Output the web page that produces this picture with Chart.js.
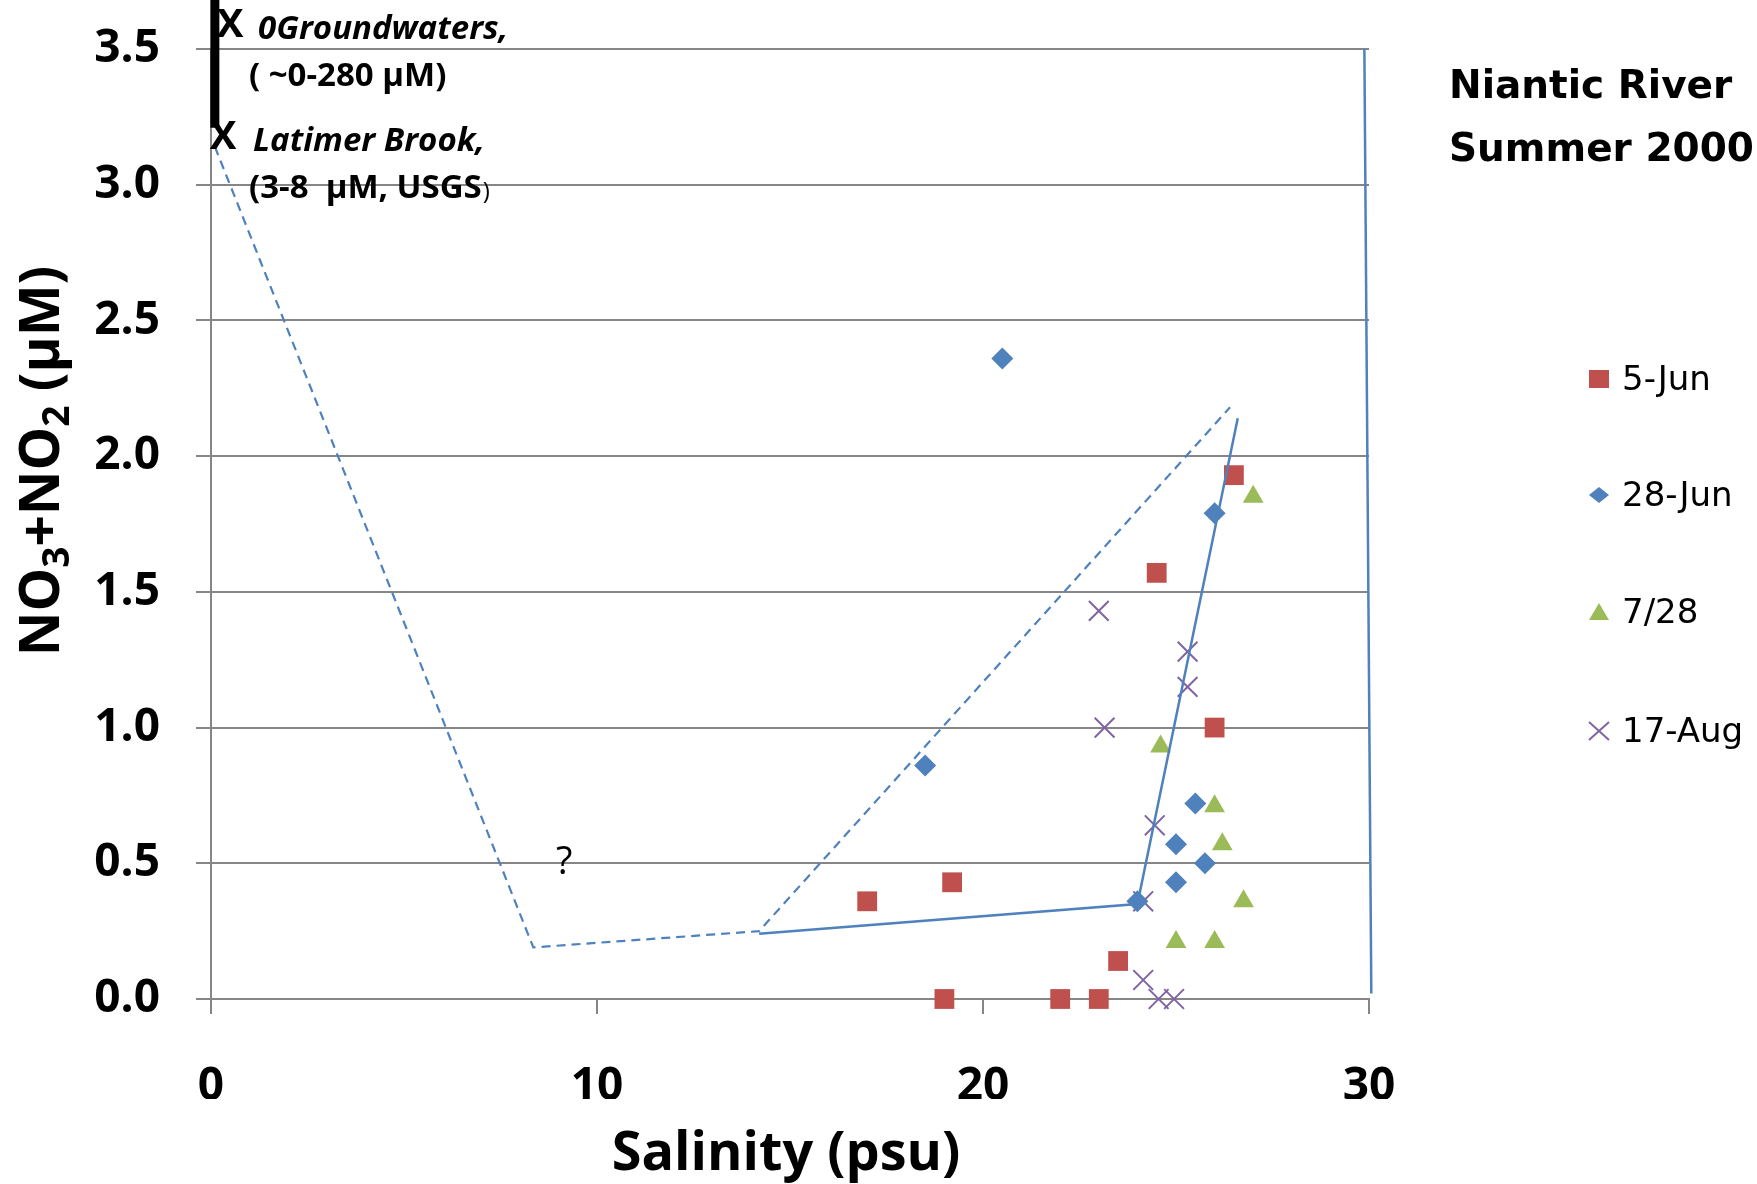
<!DOCTYPE html>
<html>
<head>
<meta charset="utf-8">
<title>Niantic River Summer 2000</title>
<script src="https://cdn.jsdelivr.net/npm/chart.js@4.4.0/dist/chart.umd.min.js"></script>
<style>
  html, body { margin: 0; padding: 0; background: #fff; }
  #wrap { width: 1757px; height: 1184px; }
</style>
</head>
<body>
<div id="wrap"><canvas id="chart" width="1757" height="1184"></canvas></div>
<script>
// sampling dates shown in the legend
const seriesNames = ['5-Jun', '28-Jun', '7/28', '17-Aug'];
const seriesColors = ['#C0504D', '#4F81BD', '#9BBB59', '#8064A2'];

// salinity (psu) and NO3+NO2 (uM) for each survey
const jun5Sal = [26.5, 24.5, 26.0, 19.2, 17.0, 23.5, 19.0, 22.0, 23.0];
const jun5NOx = [1.93, 1.57, 1.00, 0.43, 0.36, 0.14, 0.0, 0.0, 0.0];

const jun28Sal = [20.5, 26.0, 18.5, 25.5, 25.0, 25.75, 25.0, 24.0];
const jun28NOx = [2.36, 1.79, 0.86, 0.72, 0.57, 0.50, 0.43, 0.36];

const jul28Sal = [27.0, 24.6, 26.0, 26.2, 26.75, 25.0, 26.0];
const jul28NOx = [1.85, 0.93, 0.71, 0.57, 0.36, 0.21, 0.21];

const aug17Sal = [23.0, 25.3, 25.3, 23.15, 24.45, 24.15, 24.15, 24.55, 24.95];
const aug17NOx = [1.43, 1.28, 1.15, 1.00, 0.64, 0.36, 0.07, 0.0, 0.0];

// mixing lines drawn by hand on the original
const dashedSal = [0.1, 8.35, 14.2, 26.4];
const dashedNOx = [3.14, 0.19, 0.25, 2.18];
const solidSal = [14.2, 24.0, 26.6];
const solidNOx = [0.24, 0.35, 2.14];
const oceanSal = [29.88, 30.06];
const oceanNOx = [3.5, 0.02];
const sourceSal = [0.1, 0.1];
const sourceNOx = [3.21, 3.8];

// axis ticks
const xTicks = [0, 10, 20, 30];
const yTicks = [0, 0.5, 1.0, 1.5, 2.0, 2.5, 3.0, 3.5];

const pts = (xs, ys) => xs.map((v, i) => ({ x: v, y: ys[i] }));

const tickFont = { family: 'Open Sans', size: 46, weight: 'bold' };

const overlay = {
    id: 'overlay',
    afterDraw(chart) {
        const { ctx } = chart;
        const xs = chart.scales.x, ys = chart.scales.y;
        ctx.save();
        ctx.fillStyle = '#000';

        // end-member notes
        ctx.textBaseline = 'middle';
        ctx.textAlign = 'center';
        ctx.font = 'bold 40px "Open Sans"';
        ctx.fillText('X', 230, 26);
        ctx.fillText('X', 223, 138);
        ctx.textAlign = 'left';
        ctx.font = 'italic bold 33px "Open Sans"';
        ctx.fillText('0Groundwaters,', 258, 30);
        ctx.fillText('Latimer Brook,', 253, 142);
        ctx.font = 'bold 33px "Open Sans"';
        ctx.fillText('( ~0-280 \u00b5M)', 249, 77);
        ctx.fillText('(3-8  \u00b5M, USGS', 249, 189);
        const w = ctx.measureText('(3-8  \u00b5M, USGS').width;
        ctx.font = '24px "Open Sans"';
        ctx.fillText(')', 249 + w + 1, 192);

        // question mark
        ctx.textAlign = 'center';
        ctx.font = '38px "Open Sans"';
        ctx.fillText('?', xs.getPixelForValue(9.15), ys.getPixelForValue(0.5));

        // chart title
        ctx.textAlign = 'left';
        ctx.font = 'bold 39px "DejaVu Sans"';
        ctx.fillText('Niantic River', 1449, 88);
        ctx.fillText('Summer 2000', 1449, 151);

        // legend
        const rowY = [379, 495, 612, 731];
        ctx.font = '34px "DejaVu Sans"';
        seriesNames.forEach((name, i) => {
            const cx = 1599, cy = rowY[i];
            ctx.fillStyle = seriesColors[i];
            ctx.strokeStyle = seriesColors[i];
            ctx.beginPath();
            if (i === 0) {
                ctx.rect(cx - 10, cy - 9, 20, 18);
                ctx.fill();
            } else if (i === 1) {
                ctx.moveTo(cx - 10, cy); ctx.lineTo(cx, cy - 8);
                ctx.lineTo(cx + 10, cy); ctx.lineTo(cx, cy + 8);
                ctx.closePath(); ctx.fill();
            } else if (i === 2) {
                ctx.moveTo(cx - 10, cy + 8); ctx.lineTo(cx, cy - 9);
                ctx.lineTo(cx + 10, cy + 8); ctx.closePath(); ctx.fill();
            } else {
                ctx.lineWidth = 2;
                ctx.moveTo(cx - 10, cy - 9); ctx.lineTo(cx + 10, cy + 9);
                ctx.moveTo(cx + 10, cy - 9); ctx.lineTo(cx - 10, cy + 9);
                ctx.stroke();
            }
            ctx.fillStyle = '#000';
            ctx.fillText(name, 1622, cy + 2);
        });

        // axis titles
        ctx.textAlign = 'center';
        ctx.font = 'bold 54px "Open Sans"';
        ctx.fillText('Salinity (psu)', (xs.left + xs.right) / 2 - 4, 1155);

        ctx.translate(43, 461);
        ctx.rotate(-Math.PI / 2);
        const parts = [['NO', 0], ['3', 1], ['+NO', 0], ['2', 1], [' (\u00b5M)', 0]];
        const big = 'bold 55px "Open Sans"', small = 'bold 37px "Open Sans"';
        let total = 0;
        parts.forEach(p => { ctx.font = p[1] ? small : big; total += ctx.measureText(p[0]).width; });
        let px = -total / 2;
        ctx.textAlign = 'left';
        parts.forEach(p => {
            ctx.font = p[1] ? small : big;
            ctx.fillText(p[0], px, p[1] ? 15 : 0);
            px += ctx.measureText(p[0]).width;
        });
        ctx.restore();
    }
};

const markerSet = (label, data, color, style, radius) => ({
    label, data,
    pointStyle: style,
    pointRadius: radius,
    pointHoverRadius: radius,
    backgroundColor: color,
    borderColor: color,
    borderWidth: style === 'crossRot' ? 2 : 0,
    showLine: false,
    clip: false
});

const lineSet = (data, dash, width, color) => ({
    label: '',
    data,
    showLine: true,
    borderColor: color,
    borderWidth: width,
    borderDash: dash,
    pointRadius: 0,
    fill: false,
    clip: false
});

new Chart(document.getElementById('chart'), {
    type: 'scatter',
    data: {
        datasets: [
            lineSet(pts(dashedSal, dashedNOx), [9, 6], 2.2, '#4F81BD'),
            lineSet(pts(solidSal, solidNOx), [], 2.5, '#4F81BD'),
            lineSet(pts(oceanSal, oceanNOx), [], 2.5, '#4F81BD'),
            lineSet(pts(sourceSal, sourceNOx), [], 9, '#000'),
            markerSet(seriesNames[0], pts(jun5Sal, jun5NOx), seriesColors[0], 'rect', 14),
            markerSet(seriesNames[1], pts(jun28Sal, jun28NOx), seriesColors[1], 'rectRot', 11),
            markerSet(seriesNames[2], pts(jul28Sal, jul28NOx), seriesColors[2], 'triangle', 12),
            markerSet(seriesNames[3], pts(aug17Sal, aug17NOx), seriesColors[3], 'crossRot', 14)
        ]
    },
    options: {
        responsive: false,
        animation: false,
        layout: { padding: { left: 71, right: 388, top: 49, bottom: 85 } },
        plugins: {
            legend: { display: false },
            tooltip: { enabled: false }
        },
        scales: {
            x: {
                type: 'linear',
                min: 0, max: 30,
                afterFit: s => { s.height = 100; s.paddingLeft = 0; s.paddingRight = 0; },
                afterBuildTicks: s => { s.ticks = xTicks.map(v => ({ value: v })); },
                grid: { drawOnChartArea: false, color: '#868686', lineWidth: 2, tickLength: 15 },
                border: { color: '#868686', width: 2 },
                ticks: { font: tickFont, color: '#000', padding: 45, maxRotation: 0 }
            },
            y: {
                type: 'linear',
                min: 0, max: 3.5,
                afterFit: s => { s.width = 140; s.paddingTop = 0; s.paddingBottom = 0; },
                afterBuildTicks: s => { s.ticks = yTicks.map(v => ({ value: v })); },
                grid: { color: '#868686', lineWidth: 2, tickLength: 15 },
                border: { color: '#868686', width: 2 },
                ticks: { font: tickFont, color: '#000', padding: 36, callback: v => v.toFixed(1) }
            }
        }
    },
    plugins: [overlay]
});
</script>
</body>
</html>
